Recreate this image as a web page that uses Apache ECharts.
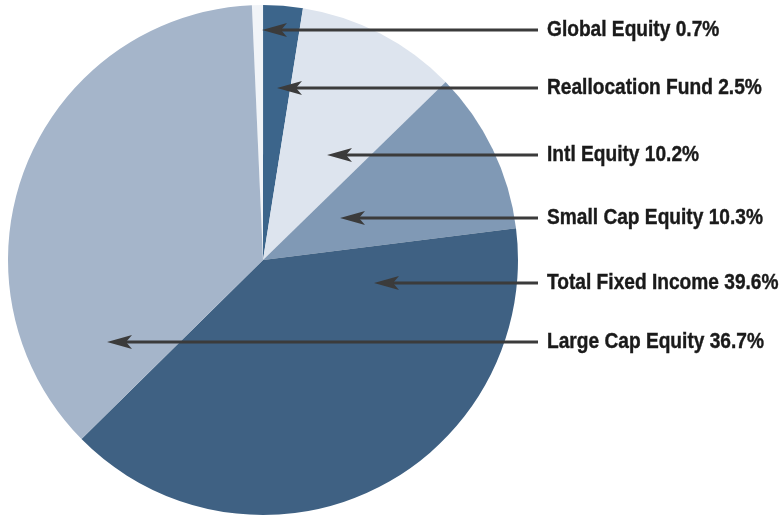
<!DOCTYPE html>
<html>
<head>
<meta charset="utf-8">
<script src="https://cdn.jsdelivr.net/npm/echarts@6/dist/echarts.min.js"></script>
<style>
html,body{margin:0;padding:0;background:#fff;}
#c{width:780px;height:517px;}
</style>
</head>
<body>
<div id="c"></div>
<script>
const categories = ['Global Equity', 'Reallocation Fund', 'Intl Equity', 'Small Cap Equity', 'Total Fixed Income', 'Large Cap Equity'];
const values = [0.7, 2.5, 10.2, 10.3, 39.6, 36.7];
const colors = ['#f1f4f8', '#3c658b', '#dde4ee', '#8099b5', '#3f6183', '#a5b5ca'];

// annotation layout (positions only)
const rowY = [30, 88, 155, 218, 283, 342];
const tipX = [262, 277, 327, 340, 374, 107];
const labelX = 547;
const lineEndX = 538;

const chart = echarts.init(document.getElementById('c'), null, {renderer: 'canvas'});

const annotations = [];
rowY.forEach((y, i) => {
  annotations.push({
    type: 'line',
    shape: { x1: tipX[i] + 18, y1: y, x2: lineEndX, y2: y },
    style: { stroke: '#3b3b3b', lineWidth: 2.8 },
    z: 100
  });
  annotations.push({
    type: 'polygon',
    x: tipX[i], y: y,
    shape: { points: [[0, 0], [25, -7], [19, 0], [25, 7]] },
    style: { fill: '#3b3b3b' },
    z: 101
  });
  annotations.push({
    type: 'text',
    x: labelX, y: y,
    scaleX: 0.87,
    style: {
      text: categories[i] + ' ' + values[i].toFixed(1) + '%',
      fontFamily: '"Liberation Sans", Arial, sans-serif',
      fontWeight: 'bold',
      fontSize: 22,
      fill: '#1a1a1a',
      stroke: '#1a1a1a',
      lineWidth: 0.4,
      textAlign: 'left',
      textVerticalAlign: 'middle'
    },
    z: 101
  });
});

chart.setOption({
  animation: false,
  backgroundColor: '#ffffff',
  graphic: annotations,
  series: [{
    type: 'pie',
    center: [263, 260],
    radius: 255,
    startAngle: 92.5,
    clockwise: true,
    avoidLabelOverlap: false,
    emphasis: { disabled: true },
    itemStyle: { borderWidth: 0 },
    label: { show: false },
    labelLine: { show: false },
    data: categories.map((n, i) => ({ name: n, value: values[i], itemStyle: { color: colors[i] } }))
  }]
});
</script>
</body>
</html>
